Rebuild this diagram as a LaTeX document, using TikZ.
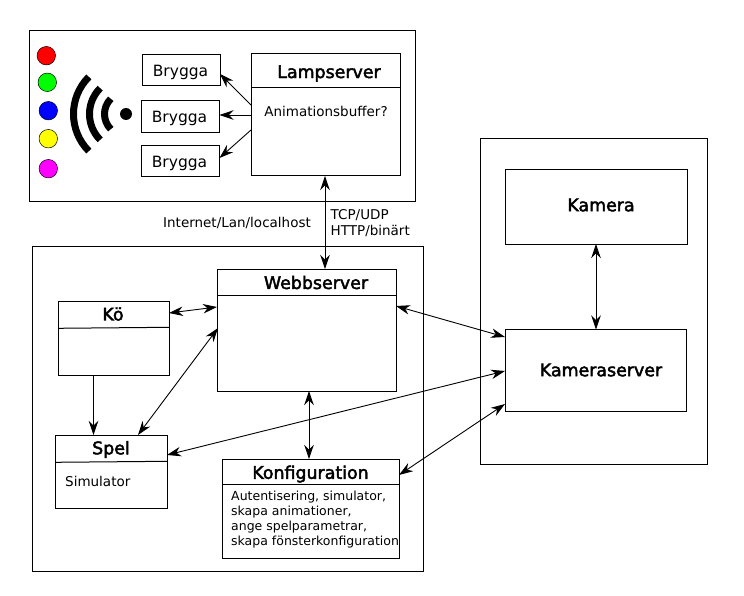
\documentclass[tikz,border=0pt]{standalone}
\usepackage{fontspec}
\setmainfont{DejaVu Sans}
\newfontfamily\titlefont[FakeBold=2.5]{DejaVu Sans}
\usetikzlibrary{arrows.meta}
\newcommand{\fsz}[1]{\fontsize{#1}{#1}\selectfont}
\definecolor{lred}{RGB}{255,0,0}
\definecolor{lgreen}{RGB}{0,255,0}
\definecolor{lblue}{RGB}{0,0,255}
\definecolor{lyellow}{RGB}{255,255,0}
\definecolor{lmagenta}{RGB}{255,0,255}
\tikzset{
  x=1pt,y=-1pt,
  tip/.tip={Stealth[length=14pt,width=9.5pt,inset=4.5pt]},
  boxline/.style={draw=black,line width=1pt},
  outerbox/.style={draw=black,line width=1pt,fill=white},
  conn/.style={draw=black,line width=0.9pt,-tip},
  dconn/.style={draw=black,line width=0.9pt,tip-tip},
  lamp/.style={circle,draw=black,line width=0.5pt,minimum size=18.5pt,inner sep=0pt},
  title/.style={font=\titlefont\fsz{17.4},inner sep=0pt,anchor=center},
  bridge/.style={font=\fsz{15.5},inner sep=0pt,anchor=center},
  body/.style={font=\fsz{13.5},inner sep=0pt},
  wave/.style={line width=7pt,draw=black},
}
\begin{document}
\begin{tikzpicture}
\useasboundingbox[fill=white] (0,0) rectangle (744,596);
% outer frames
\path[outerbox] (29,31) rectangle (415,202);
\path[outerbox] (32,246) rectangle (423,571);
\path[outerbox] (480.5,138.5) rectangle (707,464);
% lamps
\node[lamp,fill=lred] (l1) at (46.3,55.7) {};
\node[lamp,fill=lgreen] (l2) at (47.3,82.3) {};
\node[lamp,fill=lblue] (l3) at (48.3,110.7) {};
\node[lamp,fill=lyellow] (l4) at (48.3,138.7) {};
\node[lamp,fill=lmagenta] (l5) at (48.3,168.7) {};
% wifi
\fill[black] (126,114) circle (6);
\draw[wave] (126,114) ++(135:52.5) arc[start angle=135,end angle=225,radius=52.5];
\draw[wave] (126,114) ++(135:36.5) arc[start angle=135,end angle=225,radius=36.5];
\draw[wave] (126,114) ++(135:21.5) arc[start angle=135,end angle=225,radius=21.5];
% bridges
\path[boxline] (142.3,55) rectangle (220,86);
\path[boxline] (141.5,101) rectangle (219.5,132.5);
\path[boxline] (141.5,145.5) rectangle (219.5,177);
\node[bridge] (b1) at (180.5,72.5) {Brygga};
\node[bridge] (b2) at (179.5,118.5) {Brygga};
\node[bridge] (b3) at (179.5,163) {Brygga};
% class boxes
\path[boxline] (251,54) rectangle (400,176);
\draw[boxline] (251,87.5) -- (400,87.5);
\node[title] (tlamp) at (329,73.5) {Lampserver};
\node[body] (anim) at (326,111) {Animationsbuffer?};

\path[boxline] (217,269) rectangle (396,391);
\draw[boxline] (217,295.5) -- (396,295.5);
\node[title] (tweb) at (316,282.5) {Webbserver};

\path[boxline] (58,301) rectangle (169,375);
\draw[boxline] (58,328.3) -- (169,327.3);
\node[title] (tko) at (113,314) {Kö};

\path[boxline] (55.5,435) rectangle (167,508.5);
\draw[boxline] (55.5,462.3) -- (167,461.3);
\node[title] (tspel) at (111,449.5) {Spel};
\node[body,anchor=west] (tsim) at (65,481) {Simulator};

\path[boxline] (222,459) rectangle (399,558);
\draw[boxline] (222,484.5) -- (399,484.5);
\node[title] (tkonf) at (310.5,474) {Konfiguration};
\node[font=\fontsize{12.5}{15}\selectfont,inner sep=0pt,anchor=north west,align=left] (tkonftxt) at (231,491)
 {Autentisering, simulator,\\skapa animationer,\\ange spelparametrar,\\skapa fönsterkonfiguration};

\path[boxline] (505,170) rectangle (687,244);
\node[title] (tkam) at (601,205) {Kamera};
\path[boxline] (505,329.5) rectangle (686,411);
\node[title] (tkser) at (601,370) {Kameraserver};
% labels
\node[body] (inet) at (237,222.5) {Internet/Lan/localhost};
\node[body,anchor=west] (tcp) at (330.5,215) {TCP/UDP};
\node[body,anchor=west] (http) at (330.5,231) {HTTP/binärt};
% connector end points
\coordinate (lampA) at (251,105); \coordinate (br1) at (220,74);
\coordinate (lampB) at (251,115); \coordinate (br2) at (219.5,115);
\coordinate (lampC) at (251,130); \coordinate (br3) at (219.5,158);
\coordinate (lampS) at (325,176); \coordinate (webN) at (325,269);
\coordinate (webK) at (396,306); \coordinate (kserA) at (505,337);
\coordinate (kserB) at (505,371); \coordinate (spelE) at (167,455);
\coordinate (kserC) at (505,404); \coordinate (konfE) at (399,475);
\coordinate (koE) at (169,313); \coordinate (webW) at (217,307);
\coordinate (webSW) at (218,328); \coordinate (spelN) at (138,435);
\coordinate (webS) at (309,391); \coordinate (konfN) at (309,459);
\coordinate (koS) at (93.5,375); \coordinate (spelN2) at (93.5,435);
\coordinate (kamS) at (596,244); \coordinate (kserN) at (596,329.5);
% connectors
\draw[conn] (lampA) -- (br1);
\draw[conn] (lampB) -- (br2);
\draw[conn] (lampC) -- (br3);
\draw[dconn] (lampS) -- (webN);
\draw[dconn] (webK) -- (kserA);
\draw[dconn] (kserB) -- (spelE);
\draw[dconn] (kserC) -- (konfE);
\draw[dconn] (koE) -- (webW);
\draw[dconn] (webSW) -- (spelN);
\draw[dconn] (webS) -- (konfN);
\draw[conn] (koS) -- (spelN2);
\draw[dconn] (kamS) -- (kserN);
\end{tikzpicture}
\end{document}
